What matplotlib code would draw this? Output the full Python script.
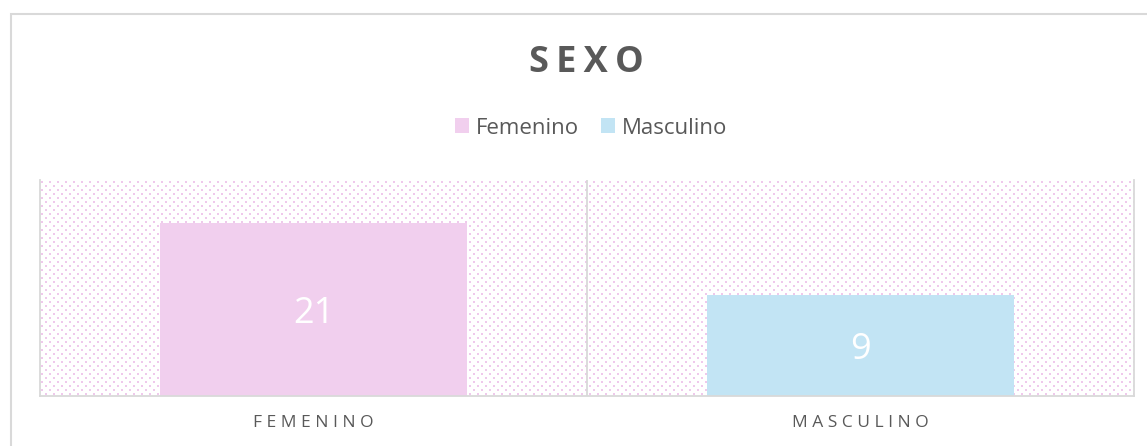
import numpy as np
import matplotlib

matplotlib.use("Agg")
import matplotlib.pyplot as plt
from matplotlib.patches import Patch, Rectangle

categories = ["Femenino", "Masculino"]
tick_labels = ["FEMENINO", "MASCULINO"]
values = [21, 9]
bar_colors = ["#F1CFEE", "#C2E4F4"]

TEXT = "#595959"
GRID = "#D9D9D9"
DOT = "#EFC9EC"
YMIN, YMAX = -7.8, 28.2

plt.rcParams["font.family"] = ["Open Sans", "DejaVu Sans"]

W, H, DPI = 1147, 446, 100
fig = plt.figure(figsize=(W / DPI, H / DPI), dpi=DPI)

# plot area in pixels
x0, x1, y_top, y_bot = 40, 1134, 180, 396
ax = fig.add_axes([x0 / W, (H - y_bot) / H, (x1 - x0) / W, (y_bot - y_top) / H])
ax.set_facecolor("none")

# dotted pattern background
pw, ph = x1 - x0, y_bot - y_top
img = np.ones((ph, pw, 4))
dot_rgb = matplotlib.colors.to_rgb(DOT)
for r in range(0, ph, 4):
    off = 0 if (r // 4) % 2 == 0 else 4
    for c in range(off + 1, pw, 8):
        img[r + 1:r + 3, c:c + 2, :3] = dot_rgb
fig.figimage(img, xo=x0, yo=H - y_bot, zorder=-1)

xpos = np.arange(len(categories))
heights = [v - YMIN for v in values]
bars = ax.bar(xpos, heights, bottom=YMIN, width=0.56, color=bar_colors, zorder=2)
ax.set_xlim(-0.5, 1.5)
ax.set_ylim(YMIN, YMAX)
for b, v in zip(bars, values):
    ax.text(b.get_x() + b.get_width() / 2, (v + YMIN) / 2, str(v),
            ha="center", va="center_baseline", color="white", fontsize=26, zorder=3)

ax.axvline(0.5, color=GRID, lw=1.3, zorder=1)
ax.spines["top"].set_visible(False)
for s in ["left", "right", "bottom"]:
    ax.spines[s].set_color(GRID)
    ax.spines[s].set_linewidth(1.3)
ax.set_yticks([])
ax.set_xticks(xpos)
ax.set_xticklabels([" ".join(t) for t in tick_labels], color=TEXT, fontsize=12.5)
ax.tick_params(axis="x", length=0, pad=14)

cx = 586 / W
fig.text(cx, (H - 63) / H, "\u2009".join("SEXO"), ha="center", va="center",
         fontsize=26, fontweight="bold", color=TEXT)

handles = [Patch(facecolor=c, edgecolor="none") for c in bar_colors]
fig.legend(handles, categories, loc="center", bbox_to_anchor=(591 / W, (H - 128) / H),
           ncol=2, frameon=False, fontsize=16, labelcolor=TEXT,
           handlelength=0.65, handleheight=0.65, handletextpad=0.3, columnspacing=1.0)

# chart frame
fig.patches.append(Rectangle((10.5 / W, -0.1), 1.2, (H - 13.5) / H + 0.1,
                             transform=fig.transFigure, fill=False,
                             edgecolor=GRID, lw=1.5))

fig.savefig("out.png", dpi=DPI)
